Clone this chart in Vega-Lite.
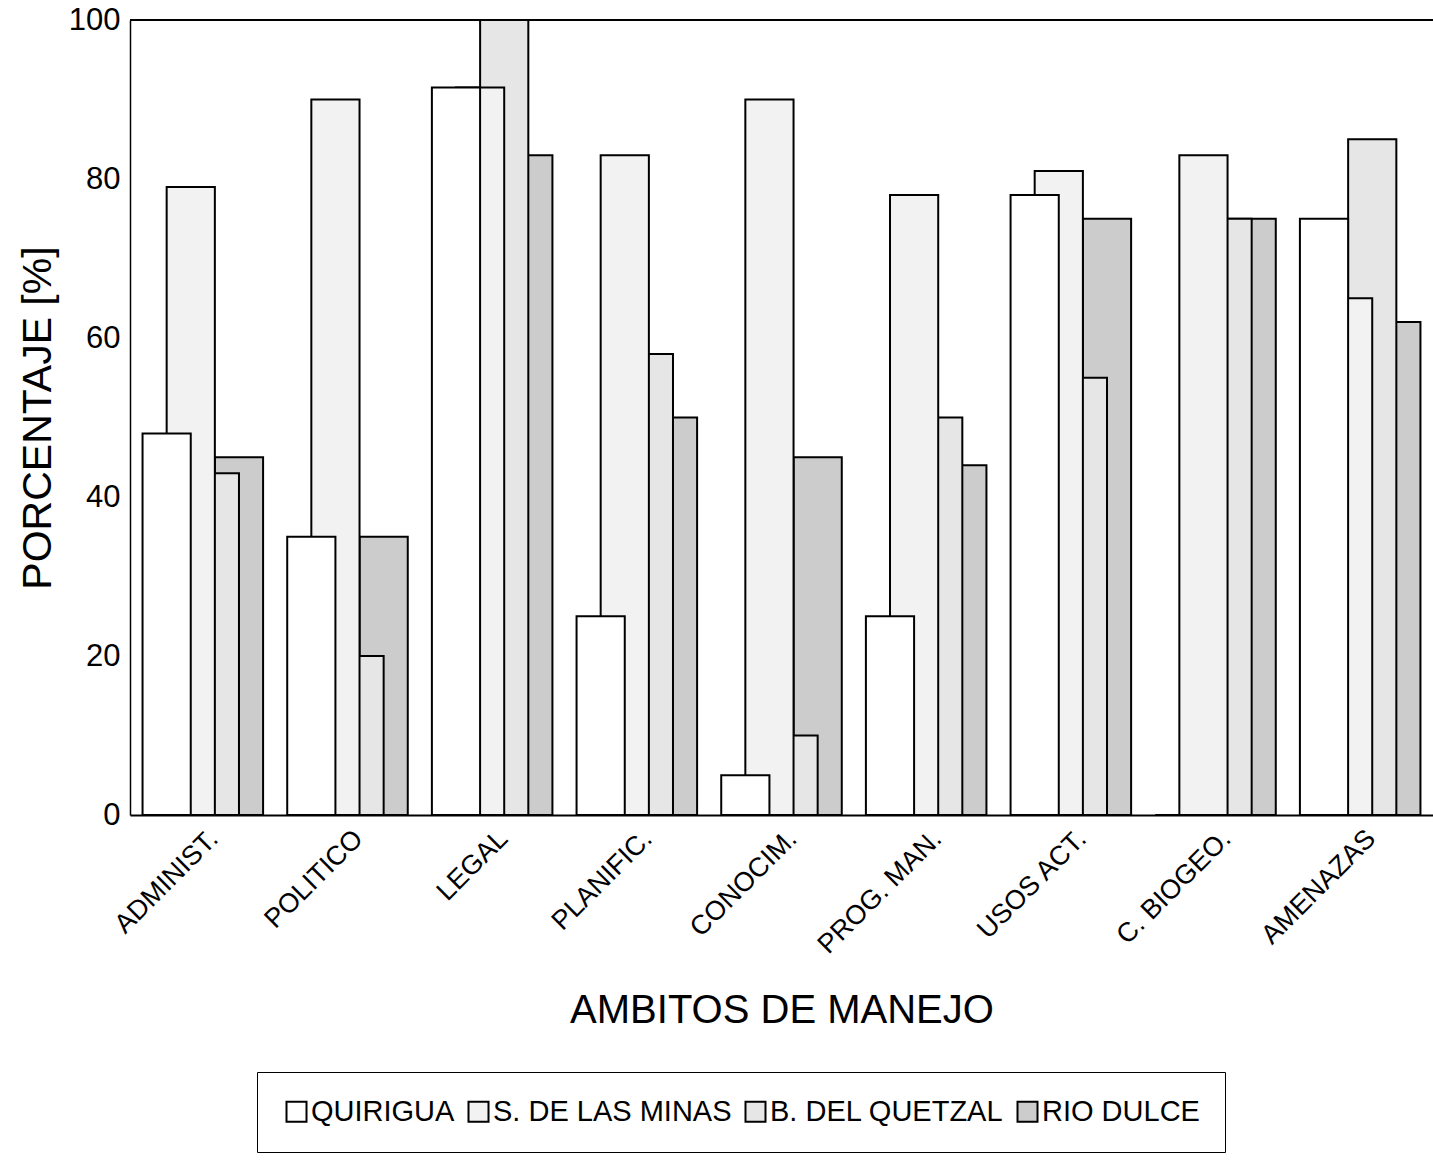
{
  "$schema": "https://vega.github.io/schema/vega-lite/v6.json",
  "autosize": "none",
  "padding": {"left": 130, "top": 20, "right": 0, "bottom": 345},
  "width": 1303,
  "height": 795,
  "background": "white",
  "config": {
    "view": {"stroke": null},
    "font": "Liberation Sans",
    "axis": {"grid": false}
  },
  "data": {
    "values": [
      {"ambito": "ADMINIST.", "serie": "RIO DULCE", "porcentaje": 45},
      {"ambito": "POLITICO", "serie": "RIO DULCE", "porcentaje": 35},
      {"ambito": "LEGAL", "serie": "RIO DULCE", "porcentaje": 83},
      {"ambito": "PLANIFIC.", "serie": "RIO DULCE", "porcentaje": 50},
      {"ambito": "CONOCIM.", "serie": "RIO DULCE", "porcentaje": 45},
      {"ambito": "PROG. MAN.", "serie": "RIO DULCE", "porcentaje": 44},
      {"ambito": "USOS ACT.", "serie": "RIO DULCE", "porcentaje": 75},
      {"ambito": "C. BIOGEO.", "serie": "RIO DULCE", "porcentaje": 75},
      {"ambito": "AMENAZAS", "serie": "RIO DULCE", "porcentaje": 62},
      {"ambito": "ADMINIST.", "serie": "B. DEL QUETZAL", "porcentaje": 43},
      {"ambito": "POLITICO", "serie": "B. DEL QUETZAL", "porcentaje": 20},
      {"ambito": "LEGAL", "serie": "B. DEL QUETZAL", "porcentaje": 100},
      {"ambito": "PLANIFIC.", "serie": "B. DEL QUETZAL", "porcentaje": 58},
      {"ambito": "CONOCIM.", "serie": "B. DEL QUETZAL", "porcentaje": 10},
      {"ambito": "PROG. MAN.", "serie": "B. DEL QUETZAL", "porcentaje": 50},
      {"ambito": "USOS ACT.", "serie": "B. DEL QUETZAL", "porcentaje": 55},
      {"ambito": "C. BIOGEO.", "serie": "B. DEL QUETZAL", "porcentaje": 75},
      {"ambito": "AMENAZAS", "serie": "B. DEL QUETZAL", "porcentaje": 85},
      {"ambito": "ADMINIST.", "serie": "S. DE LAS MINAS", "porcentaje": 79},
      {"ambito": "POLITICO", "serie": "S. DE LAS MINAS", "porcentaje": 90},
      {"ambito": "LEGAL", "serie": "S. DE LAS MINAS", "porcentaje": 91.5},
      {"ambito": "PLANIFIC.", "serie": "S. DE LAS MINAS", "porcentaje": 83},
      {"ambito": "CONOCIM.", "serie": "S. DE LAS MINAS", "porcentaje": 90},
      {"ambito": "PROG. MAN.", "serie": "S. DE LAS MINAS", "porcentaje": 78},
      {"ambito": "USOS ACT.", "serie": "S. DE LAS MINAS", "porcentaje": 81},
      {"ambito": "C. BIOGEO.", "serie": "S. DE LAS MINAS", "porcentaje": 83},
      {"ambito": "AMENAZAS", "serie": "S. DE LAS MINAS", "porcentaje": 65},
      {"ambito": "ADMINIST.", "serie": "QUIRIGUA", "porcentaje": 48},
      {"ambito": "POLITICO", "serie": "QUIRIGUA", "porcentaje": 35},
      {"ambito": "LEGAL", "serie": "QUIRIGUA", "porcentaje": 91.5},
      {"ambito": "PLANIFIC.", "serie": "QUIRIGUA", "porcentaje": 25},
      {"ambito": "CONOCIM.", "serie": "QUIRIGUA", "porcentaje": 5},
      {"ambito": "PROG. MAN.", "serie": "QUIRIGUA", "porcentaje": 25},
      {"ambito": "USOS ACT.", "serie": "QUIRIGUA", "porcentaje": 78},
      {"ambito": "C. BIOGEO.", "serie": "QUIRIGUA", "porcentaje": 0},
      {"ambito": "AMENAZAS", "serie": "QUIRIGUA", "porcentaje": 75}
    ]
  },
  "layer": [
    {
      "mark": {"type": "bar", "width": 48.2, "stroke": "black", "strokeWidth": 2},
      "encoding": {
        "x": {
          "field": "ambito",
          "type": "nominal",
          "sort": ["ADMINIST.", "POLITICO", "LEGAL", "PLANIFIC.", "CONOCIM.", "PROG. MAN.", "USOS ACT.", "C. BIOGEO.", "AMENAZAS"],
          "scale": {"paddingInner": 0.3333, "paddingOuter": 0.17},
          "axis": {
            "title": "AMBITOS DE MANEJO",
            "labelAngle": -45,
            "labelFontSize": 27,
            "labelColor": "black",
            "labelPadding": 10,
            "labelOffset": 2,
            "ticks": false,
            "domainColor": "black",
            "domainWidth": 2,
            "titleFontSize": 40,
            "titleFontWeight": "normal",
            "titleColor": "black",
            "titlePadding": 33
          }
        },
        "xOffset": {
          "field": "serie",
          "type": "nominal",
          "scale": {"domain": ["QUIRIGUA", "S. DE LAS MINAS", "B. DEL QUETZAL", "RIO DULCE"], "paddingInner": 0, "paddingOuter": 0}
        },
        "y": {
          "field": "porcentaje",
          "type": "quantitative",
          "scale": {"domain": [0, 100]},
          "axis": {
            "title": "PORCENTAJE [%]",
            "values": [0, 20, 40, 60, 80, 100],
            "ticks": false,
            "labelFontSize": 31,
            "labelPadding": 10,
            "labelColor": "black",
            "domainColor": "black",
            "domainWidth": 1.5,
            "titleFontSize": 41,
            "titleFontWeight": "normal",
            "titleColor": "black",
            "titlePadding": 9
          }
        },
        "fill": {
          "field": "serie",
          "type": "nominal",
          "scale": {
            "domain": ["QUIRIGUA", "S. DE LAS MINAS", "B. DEL QUETZAL", "RIO DULCE"],
            "range": ["#ffffff", "#f2f2f2", "#e6e6e6", "#cccccc"]
          },
          "legend": {
            "title": null,
            "orient": "none",
            "legendX": 127,
            "legendY": 1052,
            "direction": "horizontal",
            "symbolType": "square",
            "symbolSize": 400,
            "symbolStrokeColor": "black",
            "symbolStrokeWidth": 2,
            "labelFontSize": 29,
            "labelColor": "black",
            "labelOffset": 0,
            "labelLimit": 0,
            "columnPadding": 9,
            "padding": 25,
            "strokeColor": "black"
          }
        }
      }
    },
    {
      "mark": {"type": "rule", "color": "black", "strokeWidth": 1.5},
      "encoding": {"y": {"datum": 100}}
    }
  ]
}
